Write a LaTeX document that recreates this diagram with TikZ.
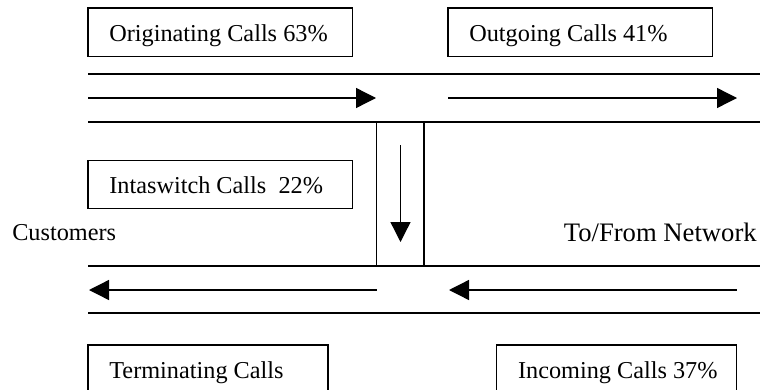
\documentclass[tikz,border=0pt]{standalone}
\usepackage{fontspec}
\setmainfont{Liberation Serif}
\usetikzlibrary{positioning,arrows.meta}

\begin{document}
\begin{tikzpicture}[
  x=0.75pt, y=-0.75pt,
  font=\fontsize{18.2}{20}\selectfont,
  callbox/.style={draw, line width=0.9pt, anchor=north west, align=flush left, outer sep=0pt,
    inner xsep=0pt, inner ysep=0pt, text height=24.8pt, text depth=11.4pt, text width=#1,
    execute at begin node={\hspace*{16pt}}},
  lane/.style={line width=1.1pt},
  flow/.style={line width=1pt, -{Triangle[length=15pt, width=15pt]}},
  side/.style={inner sep=0pt}
]
  \useasboundingbox (0,0) rectangle (773,389);
  \clip (0,0) rectangle (773,389);

  % lane edges
  \coordinate (l1w) at (88,74);   \coordinate (l1e) at (760,74);
  \coordinate (l2w) at (88,122);  \coordinate (l2e) at (760,122);
  \coordinate (l3w) at (88,266);  \coordinate (l3e) at (760,266);
  \coordinate (l4w) at (88,313);  \coordinate (l4e) at (760,313);
  \coordinate (swnw) at (376.5,122); \coordinate (swsw) at (376.5,266);
  \coordinate (swne) at (424,122);   \coordinate (swse) at (424,266);
  \draw[lane] (l1w) -- (l1e);
  \draw[lane] (l2w) -- (l2e);
  \draw[lane] (l3w) -- (l3e);
  \draw[lane] (l4w) -- (l4e);
  \draw[lane] (swnw) -- (swsw);
  \draw[lane] (swne) -- (swse);

  % call boxes
  \node[callbox=198.5pt] (orig) at (88,8) {Originating Calls 63\%};
  \node[callbox=198.5pt] (outg) at (448,8) {Outgoing Calls 41\%};
  \node[callbox=198.5pt] (intra) at (88,160.5) {Intaswitch Calls~~22\%};
  \node[callbox=180pt] (term) at (88,345) {Terminating Calls};
  \node[callbox=180pt] (inc) at (496.7,345) {Incoming Calls 37\%};

  % side labels
  \node[side, anchor=base west] (cust) at (12,240) {Customers};
  \node[side, anchor=base east, font=\fontsize{20}{22}\selectfont] (net) at (757,241.7) {To/From Network};

  % flows
  \coordinate (o1) at (88,98);     \coordinate (o2) at (376,98);
  \coordinate (g1) at (448,98);    \coordinate (g2) at (737,98);
  \coordinate (s1) at (400.5,145); \coordinate (s2) at (400.5,242);
  \coordinate (t1) at (376.7,290); \coordinate (t2) at (89,290);
  \coordinate (i1) at (736.7,290); \coordinate (i2) at (449,290);
  \draw[flow] (o1) -- (o2);
  \draw[flow] (g1) -- (g2);
  \draw[flow] (s1) -- (s2);
  \draw[flow] (t1) -- (t2);
  \draw[flow] (i1) -- (i2);
\end{tikzpicture}
\end{document}
